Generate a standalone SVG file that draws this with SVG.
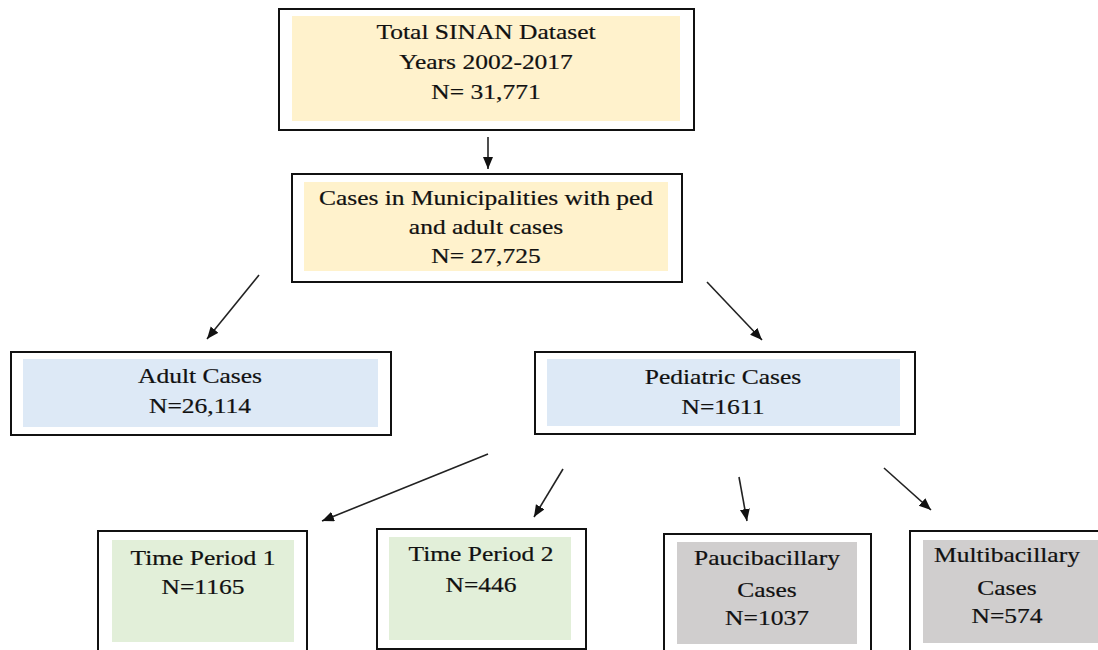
<svg xmlns="http://www.w3.org/2000/svg" width="1098" height="650" viewBox="0 0 1098 650">
  <style>
    .frame { fill: #ffffff; stroke: #111111; stroke-width: 2; }
    .yellow { fill: #fff2cc; }
    .blue { fill: #dde9f6; }
    .green { fill: #e2efd9; }
    .grey { fill: #d0cece; }
    .t { font-family: "Liberation Serif", "Times New Roman", serif; font-size: 25.5px; fill: #111111; stroke: #111111; stroke-width: 0.25; text-anchor: middle; }
    .conn { stroke: #222222; stroke-width: 1.6; fill: none; marker-end: url(#arrow); }
  </style>
  <defs>
    <marker id="arrow" markerUnits="userSpaceOnUse" markerWidth="14" markerHeight="12" refX="12" refY="5" orient="auto">
      <path d="M0,0 L12,5 L0,10 z" fill="#111111"/>
    </marker>
  </defs>
  <rect width="1098" height="650" fill="#ffffff"/>

  <g id="total">
    <rect class="frame" x="279" y="9" width="415" height="121"/>
    <rect class="yellow" x="292" y="16" width="388" height="105"/>
    <text class="t" transform="translate(486,39) scale(1,0.85)">Total SINAN Dataset</text>
    <text class="t" transform="translate(486,69) scale(1,0.85)">Years 2002-2017</text>
    <text class="t" transform="translate(486,99) scale(1,0.85)">N= 31,771</text>
  </g>

  <g id="municipalities">
    <rect class="frame" x="292" y="174" width="390" height="108"/>
    <rect class="yellow" x="304" y="182" width="364" height="89"/>
    <text class="t" transform="translate(486,205) scale(1,0.85)">Cases in Municipalities with ped</text>
    <text class="t" transform="translate(486,234) scale(1,0.85)">and adult cases</text>
    <text class="t" transform="translate(486,263) scale(1,0.85)">N= 27,725</text>
  </g>

  <g id="adult">
    <rect class="frame" x="11" y="352" width="380" height="83"/>
    <rect class="blue" x="23" y="359" width="355" height="68"/>
    <text class="t" transform="translate(200,383) scale(1,0.85)">Adult Cases</text>
    <text class="t" transform="translate(200,413) scale(1,0.85)">N=26,114</text>
  </g>

  <g id="pediatric">
    <rect class="frame" x="535" y="352" width="380" height="82"/>
    <rect class="blue" x="547" y="359" width="353" height="67"/>
    <text class="t" transform="translate(723,384) scale(1,0.85)">Pediatric Cases</text>
    <text class="t" transform="translate(723,414) scale(1,0.85)">N=1611</text>
  </g>

  <g id="period1">
    <rect class="frame" x="98" y="531" width="209" height="130"/>
    <rect class="green" x="112" y="540" width="182" height="102"/>
    <text class="t" transform="translate(203,565) scale(1,0.85)">Time Period 1</text>
    <text class="t" transform="translate(203,594) scale(1,0.85)">N=1165</text>
  </g>

  <g id="period2">
    <rect class="frame" x="377" y="529" width="209" height="120"/>
    <rect class="green" x="389" y="537" width="182" height="103"/>
    <text class="t" transform="translate(481,561) scale(1,0.85)">Time Period 2</text>
    <text class="t" transform="translate(481,592) scale(1,0.85)">N=446</text>
  </g>

  <g id="paucibacillary">
    <rect class="frame" x="664" y="534" width="207" height="130"/>
    <rect class="grey" x="677" y="542" width="180" height="102"/>
    <text class="t" transform="translate(767,565) scale(1,0.85)">Paucibacillary</text>
    <text class="t" transform="translate(767,597) scale(1,0.85)">Cases</text>
    <text class="t" transform="translate(767,625) scale(1,0.85)">N=1037</text>
  </g>

  <g id="multibacillary">
    <rect class="frame" x="910" y="531" width="200" height="130"/>
    <rect class="grey" x="923" y="540" width="180" height="103"/>
    <text class="t" transform="translate(1007,562) scale(1,0.85)">Multibacillary</text>
    <text class="t" transform="translate(1007,595) scale(1,0.85)">Cases</text>
    <text class="t" transform="translate(1007,623) scale(1,0.85)">N=574</text>
  </g>

  <g id="connectors">
    <line class="conn" x1="488" y1="137" x2="488" y2="169"/>
    <line class="conn" x1="259" y1="275" x2="207" y2="339"/>
    <line class="conn" x1="707" y1="282" x2="762" y2="340"/>
    <line class="conn" x1="488" y1="454" x2="322" y2="521"/>
    <line class="conn" x1="563" y1="469" x2="534" y2="517"/>
    <line class="conn" x1="739" y1="477" x2="747" y2="521"/>
    <line class="conn" x1="884" y1="468" x2="931" y2="510"/>
  </g>
</svg>
